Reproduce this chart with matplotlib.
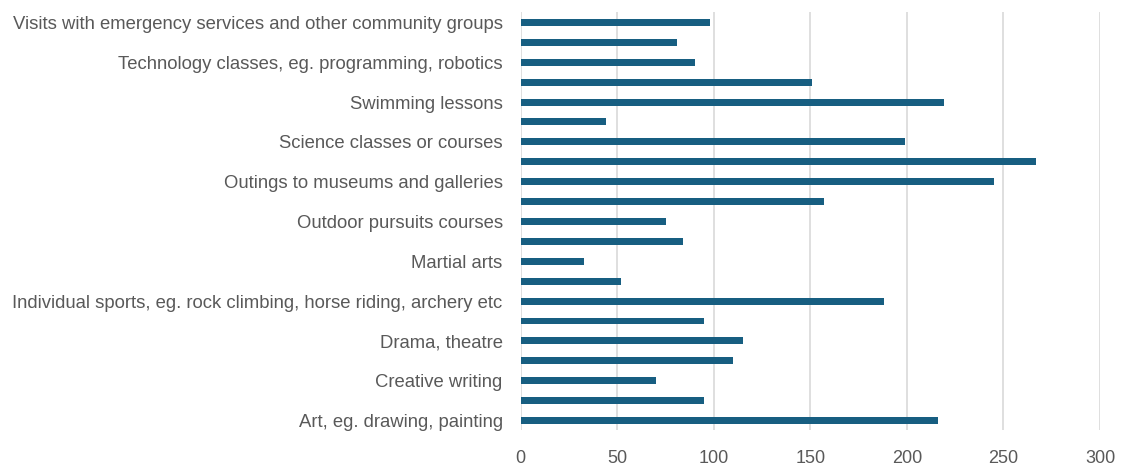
import numpy as np
import matplotlib.pyplot as plt

plt.rcParams['font.family'] = ['Liberation Sans', 'DejaVu Sans']

# categories listed top to bottom, alternate labels are hidden in the original
labels = [
    'Visits with emergency services and other community groups', '',
    'Technology classes, eg. programming, robotics', '',
    'Swimming lessons', '',
    'Science classes or courses', '',
    'Outings to museums and galleries', '',
    'Outdoor pursuits courses', '',
    'Martial arts', '',
    'Individual sports, eg. rock climbing, horse riding, archery etc', '',
    'Drama, theatre', '',
    'Creative writing', '',
    'Art, eg. drawing, painting',
]
values = [98, 81, 90, 151, 219, 44, 199, 267, 245, 157,
          75, 84, 33, 52, 188, 95, 115, 110, 70, 95, 216]
xticks = [0, 50, 100, 150, 200, 250, 300]

fig = plt.figure(figsize=(11.22, 4.66), dpi=100)
ax = fig.add_axes([0.4641, 0.0762, 0.5163, 0.897])

pos = np.arange(len(values))
ax.barh(pos, values, height=0.35, color='#175E81', zorder=3)

ax.set_ylim(len(values) - 0.5, -0.5)
ax.set_xlim(0, 300)
ax.set_xticks(xticks)
ax.set_yticks(pos)
ax.set_yticklabels(labels)

ax.grid(axis='x', color='#d9d9d9', linewidth=1.2, zorder=0)
for s in ax.spines.values():
    s.set_visible(False)
ax.tick_params(axis='both', length=0, colors='#595959')
ax.tick_params(axis='y', pad=13, labelsize=13.3)
ax.tick_params(axis='x', pad=14, labelsize=13)

plt.savefig('out.png', dpi=100)
